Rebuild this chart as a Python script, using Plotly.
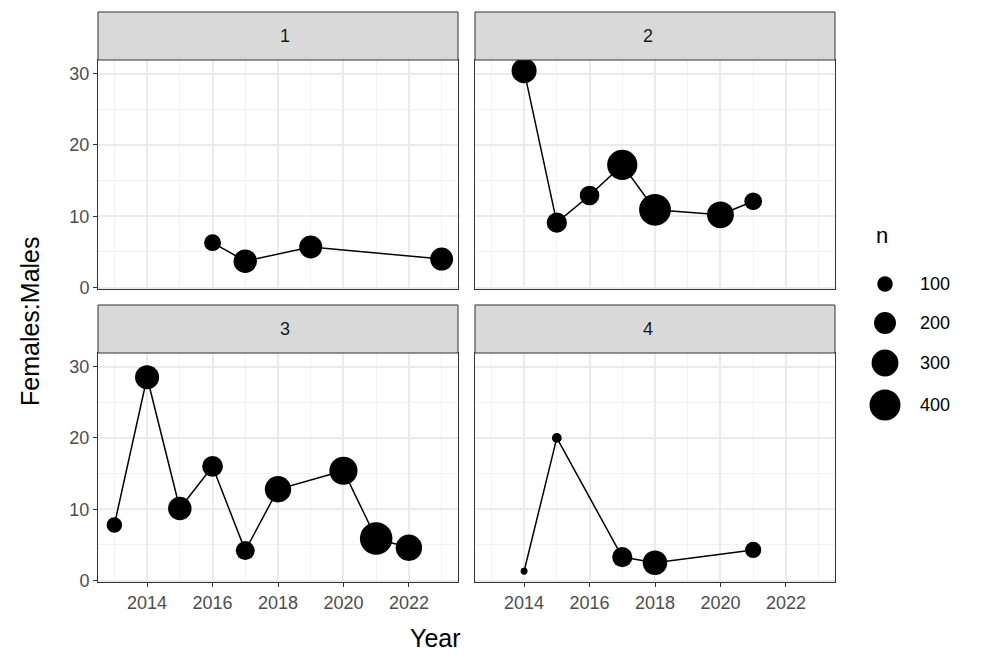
import plotly.graph_objects as go

years1=[2016,2017,2019,2023]; ratio1=[6.3,3.7,5.7,4.0]; n1=[120,230,220,220]
years2=[2014,2015,2016,2017,2018,2020,2021]; ratio2=[30.4,9.1,12.9,17.2,10.9,10.2,12.1]; n2=[260,170,160,380,420,300,130]
years3=[2013,2014,2015,2016,2017,2018,2020,2021,2022]; ratio3=[7.8,28.5,10.1,16.0,4.2,12.8,15.4,5.9,4.6]; n3=[100,240,230,180,150,290,330,440,290]
years4=[2014,2015,2017,2018,2021]; ratio4=[1.3,20.0,3.3,2.5,4.3]; n4=[20,40,170,250,110]
panels=["1","2","3","4"]
legend_n=[100,200,300,400]

def sz(n): return [31*(v/400)**0.5 for v in n]

O=8  # page body offset
L,R,T,B=98-O,835-O,12-O,582-O
W,H=R-L,B-T
def px(a): return (a-O-L)/W
def py(b): return (B-(b-O))/H

fig=go.Figure()
data=[(years1,ratio1,n1),(years2,ratio2,n2),(years3,ratio3,n3),(years4,ratio4,n4)]
xd=[(px(98),px(458)),(px(475),px(835))]
yd=[(py(289),py(60)),(py(582),py(353))]
tick=dict(size=18,color="#4D4D4D",family="Liberation Sans")
for i,(x,y,n) in enumerate(data):
    r,c=divmod(i,2); k=i+1
    fig.add_trace(go.Scatter(x=x,y=y,mode="lines+markers",opacity=1,line=dict(color="black",width=1.5),
        marker=dict(color="black",opacity=1,size=sz(n),line=dict(width=0)),xaxis=f"x{k}",yaxis=f"y{k}",showlegend=False))
    fig.layout[f"xaxis{k}"]=dict(domain=xd[c],anchor=f"y{k}",range=[2012.5,2023.5],tickvals=[2014,2016,2018,2020,2022],
        showticklabels=(r==1),tickfont=tick,showgrid=True,gridcolor="#EBEBEB",gridwidth=1.5,
        minor=dict(dtick=1,tick0=2013,showgrid=True,gridcolor="#F2F2F2",gridwidth=0.8),
        showline=True,linecolor="#333333",mirror=True,zeroline=False,ticks="outside" if r==1 else "",ticklen=4,tickcolor="#333333")
    fig.layout[f"yaxis{k}"]=dict(domain=yd[r],anchor=f"x{k}",range=[-0.2,31.9],tickvals=[0,10,20,30],
        showticklabels=(c==0),tickfont=tick,showgrid=True,gridcolor="#EBEBEB",gridwidth=1.5,
        minor=dict(dtick=5,tick0=5,showgrid=True,gridcolor="#F2F2F2",gridwidth=0.8),
        showline=True,linecolor="#333333",mirror=True,zeroline=False,ticks="outside" if c==0 else "",ticklen=4,tickcolor="#333333")
    fig.add_shape(type="rect",xref="paper",yref="paper",x0=xd[c][0],x1=xd[c][1],y0=yd[r][1],y1=yd[r][1]+48/H,
        fillcolor="#D9D9D9",line=dict(color="#333333",width=1))
    fig.add_annotation(text=panels[i],xref="paper",yref="paper",x=sum(xd[c])/2,y=yd[r][1]+24/H,showarrow=False,
        yanchor="middle",font=dict(size=18,color="#1A1A1A",family="Liberation Sans"))

leg_y=[284,323,363,405]
for v,s,yy in zip(legend_n,sz(legend_n),leg_y):
    fig.add_shape(type="circle",xref="paper",yref="paper",xsizemode="pixel",ysizemode="pixel",
        xanchor=px(885),yanchor=py(yy),x0=-s/2,x1=s/2,y0=-s/2,y1=s/2,fillcolor="black",line=dict(width=0))
    fig.add_annotation(text=str(v),xref="paper",yref="paper",x=px(918),y=py(yy),xanchor="left",yanchor="middle",
        showarrow=False,font=dict(size=18,color="black",family="Liberation Sans"))
fig.add_annotation(text="n",xref="paper",yref="paper",x=px(874),y=py(235),xanchor="left",yanchor="middle",showarrow=False,
    font=dict(size=22,color="black",family="Liberation Sans"))
fig.add_annotation(text="Females:Males",xref="paper",yref="paper",x=px(30),y=py(321),textangle=-90,showarrow=False,
    xanchor="center",yanchor="middle",font=dict(size=25,color="black",family="Liberation Sans"))
fig.add_annotation(text="Year",xref="paper",yref="paper",x=px(435),y=py(638),showarrow=False,
    xanchor="center",yanchor="middle",font=dict(size=25,color="black",family="Liberation Sans"))
fig.update_layout(width=989,height=654,margin=dict(l=L,r=989-R,t=T,b=654-B,autoexpand=False),
    plot_bgcolor="white",paper_bgcolor="white")
fig.write_html("out.html")
